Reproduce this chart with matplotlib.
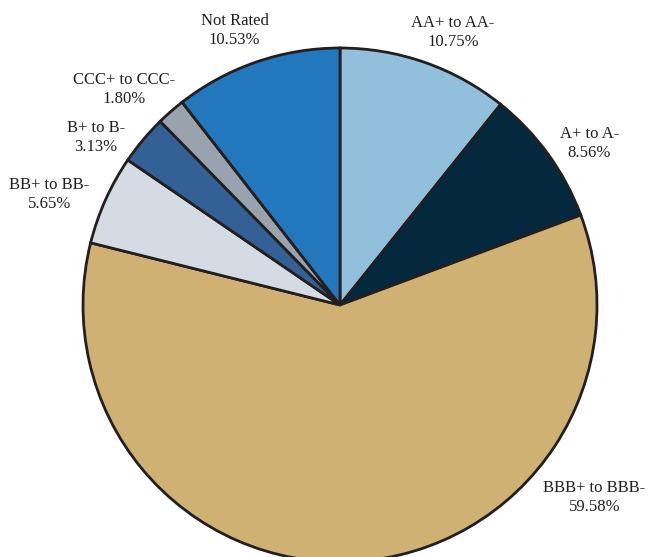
import matplotlib
matplotlib.use("Agg")
import matplotlib.pyplot as plt

# Credit quality breakdown (%)
categories = ["AA+ to AA-", "A+ to A-", "BBB+ to BBB-", "BB+ to BB-",
              "B+ to B-", "CCC+ to CCC-", "Not Rated"]
shares = [10.75, 8.56, 59.58, 5.65, 3.13, 1.80, 10.53]
colors = ["#92bfdb", "#04293f", "#cfb174", "#d5dbe2",
          "#336195", "#9aa3ad", "#2277bd"]

# label anchor points, in units of the pie radius
label_xy = [(0.44, 1.06), (0.97, 0.63), (0.99, -0.75), (-1.13, 0.43),
            (-0.95, 0.65), (-0.84, 0.84), (-0.41, 1.07)]

plt.rcParams["font.family"] = ["Liberation Serif", "DejaVu Serif"]

fig = plt.figure(figsize=(6.49, 5.57), dpi=100)
ax = fig.add_axes([0, 0, 1, 1])
ax.pie(shares, colors=colors, startangle=90, counterclock=False,
       radius=1.0, center=(0, 0),
       wedgeprops=dict(edgecolor="#231f20", linewidth=2.0))
ax.set_aspect("auto")
ax.set_xlim(-340 / 257, 309 / 257)
ax.set_ylim(-252 / 257, 305 / 257)
ax.axis("off")

for name, val, (x, y) in zip(categories, shares, label_xy):
    ax.text(x, y, f"{name}\n{val:.2f}%", ha="center", va="center",
            fontsize=12, color="#231f20", linespacing=1.25)

fig.savefig("out.png", dpi=100)
